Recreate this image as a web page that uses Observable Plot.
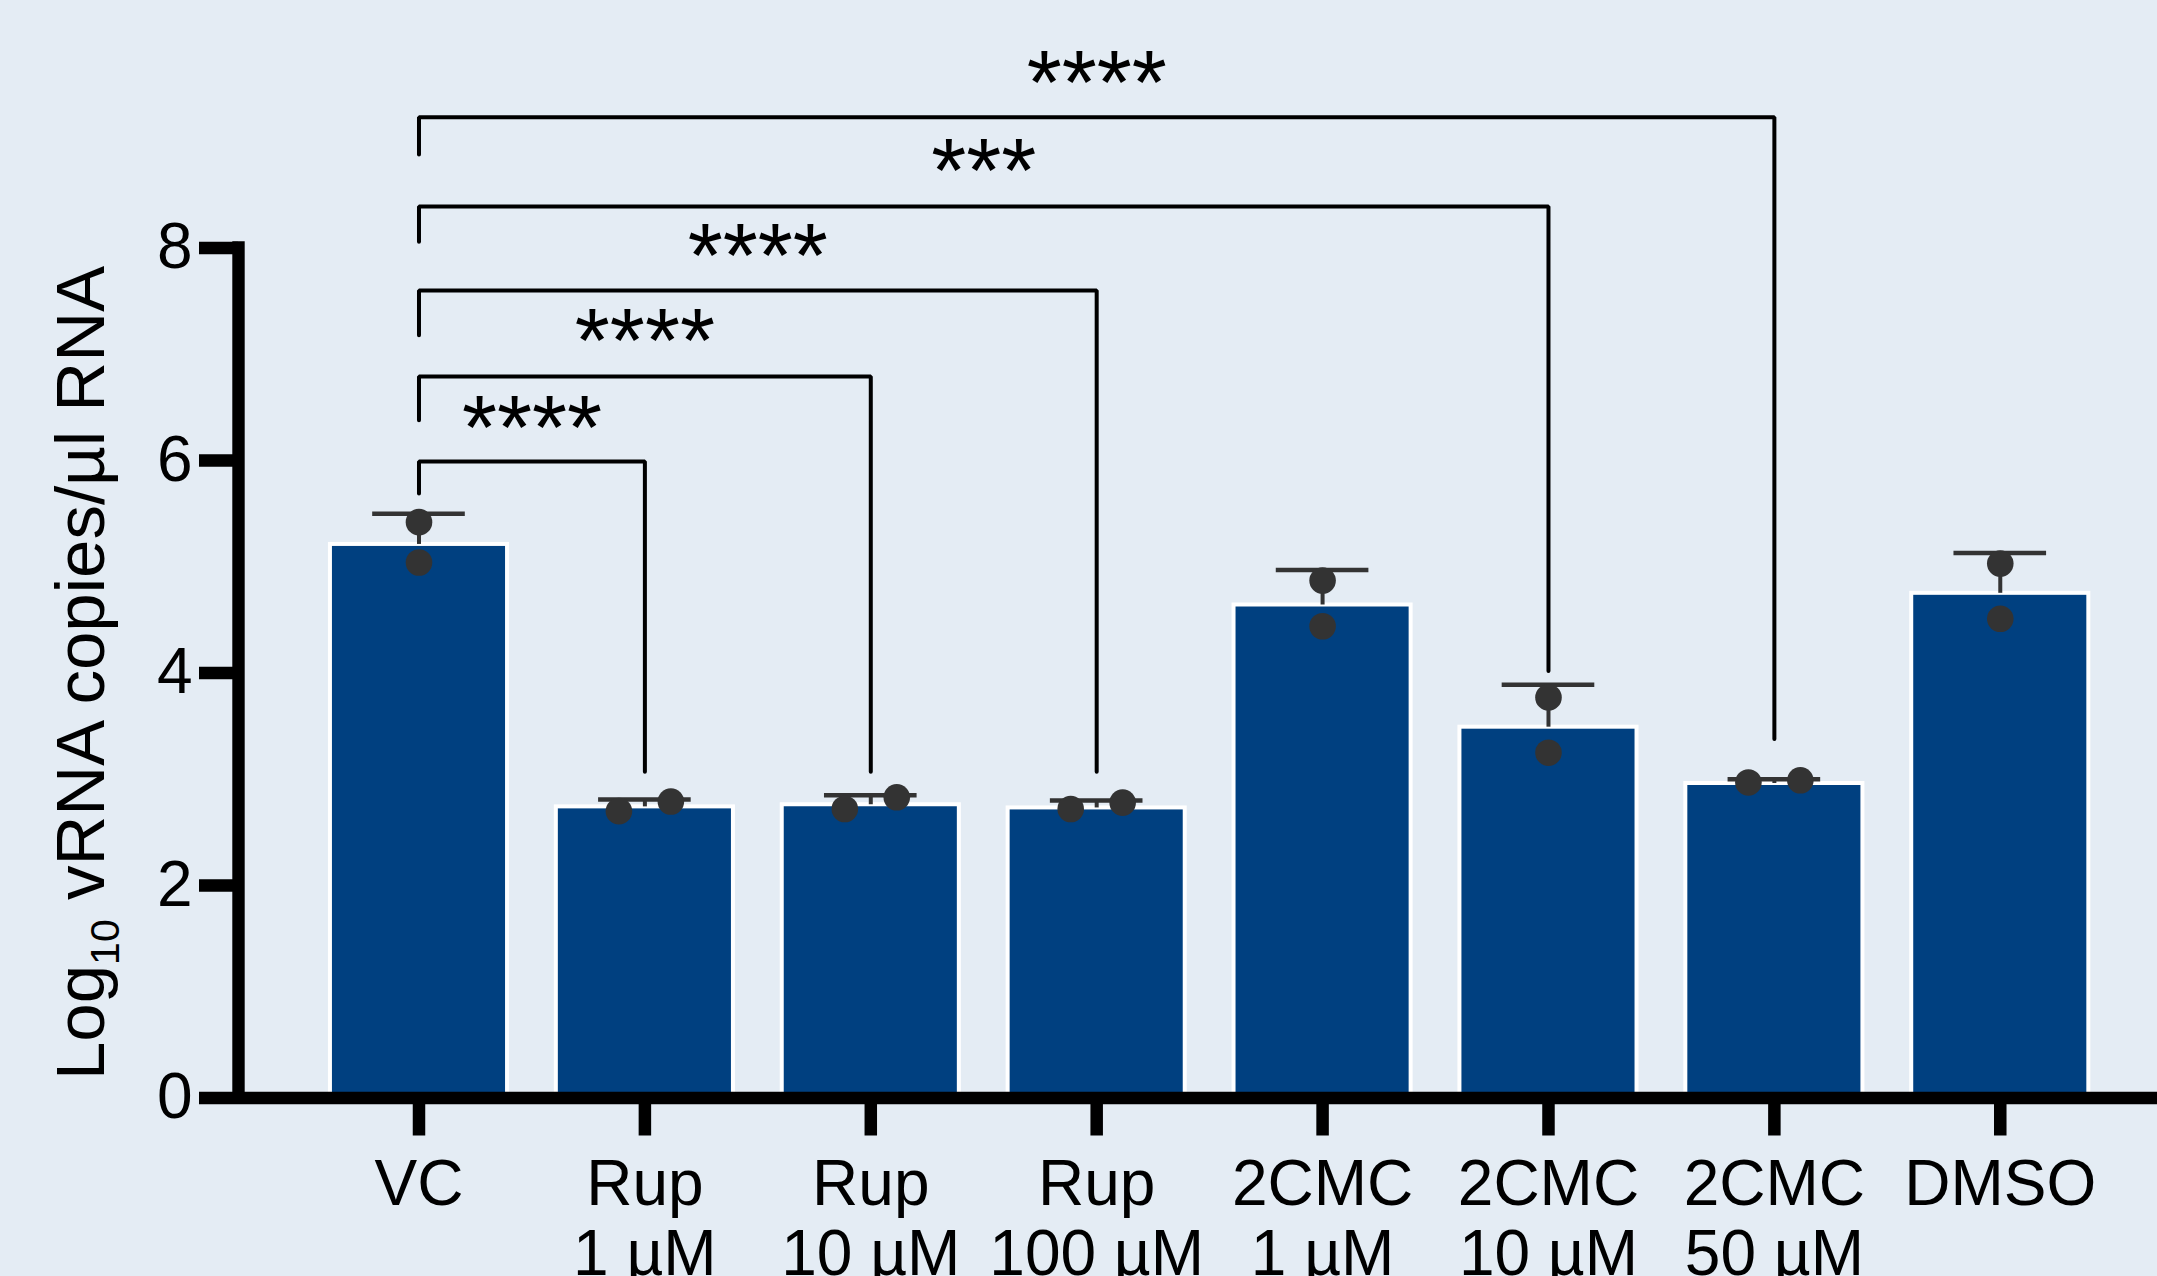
<!DOCTYPE html>
<html>
<head>
<meta charset="utf-8">
<script src="https://cdn.jsdelivr.net/npm/d3@7"></script>
<script src="https://cdn.jsdelivr.net/npm/@observablehq/plot@0.6"></script>
<style>
  html, body { margin: 0; padding: 0; background: #e4ecf4; }
  #chart svg { display: block; }
</style>
</head>
<body>
<div id="chart"></div>
<script>
// ---- data ----
const categories = ["VC", "Rup 1", "Rup 10", "Rup 100", "2CMC 1", "2CMC 10", "2CMC 50", "DMSO"];
const tickLabels = ["VC", "Rup\n1 µM", "Rup\n10 µM", "Rup\n100 µM", "2CMC\n1 µM", "2CMC\n10 µM", "2CMC\n50 µM", "DMSO"];
const means    = [5.21, 2.74, 2.76, 2.73, 4.64, 3.49, 2.96, 4.75];
const errUpper = [5.50, 2.81, 2.85, 2.80, 4.97, 3.89, 3.00, 5.13];
const rep1     = [5.42, 2.70, 2.72, 2.72, 4.87, 3.77, 2.97, 5.03];
const rep2     = [5.04, 2.79, 2.83, 2.78, 4.44, 3.25, 2.99, 4.51];
const yTicks = [0, 2, 4, 6, 8];
const yTitle = "Log10 vRNA copies/µl RNA";

// significance brackets (all from VC)
const bracketTo       = ["Rup 1", "Rup 10", "Rup 100", "2CMC 10", "2CMC 50"];
const bracketLevel    = [5.99, 6.79, 7.60, 8.39, 9.23];
const bracketLeftEnd  = [5.69, 6.38, 7.18, 8.06, 8.88];
const bracketRightEnd = [3.07, 3.07, 3.07, 4.02, 3.38];
const bracketStars    = ["****", "****", "****", "***", "****"];
const starLevel       = [6.45, 7.26, 8.06, 8.86, 9.69];

// ---- build tables ----
const idx = c => categories.indexOf(c);
const bars = categories.map((c, i) => ({i, c, mean: means[i], up: errUpper[i]}));

const JIT = 0.115;
const points = [];
categories.forEach((c, i) => {
  const a = rep1[i], b = rep2[i];
  const close = Math.abs(a - b) < 0.25;
  const lo = Math.min(a, b), hi = Math.max(a, b);
  points.push({i, v: lo, off: close ? -JIT : 0});
  points.push({i, v: hi, off: close ? JIT : 0});
});

const bracketPts = [];
const starTexts = [];
bracketTo.forEach((t, k) => {
  const x0 = idx("VC"), x1 = idx(t);
  bracketPts.push({k, x: x0, y: bracketLeftEnd[k]});
  bracketPts.push({k, x: x0, y: bracketLevel[k]});
  bracketPts.push({k, x: x1, y: bracketLevel[k]});
  bracketPts.push({k, x: x1, y: bracketRightEnd[k]});
  starTexts.push({x: (x0 + x1) / 2, y: starLevel[k], s: bracketStars[k]});
});

const BAR_HALF = 0.392;
const CAP_HALF = 0.205;
const xDomain = [-0.799, 7.696];
const INK = "#333333";

const chart = Plot.plot({
  width: 2157,
  height: 1276,
  marginLeft: 238,
  marginRight: 0,
  marginTop: 247.5,
  marginBottom: 178.5,
  x: {type: "linear", domain: xDomain},
  y: {domain: [0, 8]},
  style: {background: "#e4ecf4", fontFamily: "'Liberation Sans', Arial, sans-serif", color: "#000"},
  marks: [
    Plot.rectY(bars, {x1: d => d.i - BAR_HALF, x2: d => d.i + BAR_HALF, y1: 0, y2: d => d.mean,
      fill: "#004080", stroke: "white", strokeWidth: 4}),
    Plot.ruleX(bars, {x: d => d.i, y1: d => d.mean, y2: d => d.up, stroke: INK, strokeWidth: 4}),
    Plot.ruleY(bars, {y: d => d.up, x1: d => d.i - CAP_HALF, x2: d => d.i + CAP_HALF, stroke: INK, strokeWidth: 4.5}),
    Plot.dot(points, {x: d => d.i + d.off, y: d => d.v, r: 13.3, fill: INK, stroke: "none"}),
    Plot.line(bracketPts, {x: "x", y: "y", z: "k", stroke: "black", strokeWidth: 4, strokeLinejoin: "miter"}),
    Plot.text(starTexts, {x: "x", y: "y", text: "s", fontSize: 90, dy: 17, fill: "black"}),
    Plot.ruleY([0], {stroke: "black", strokeWidth: 12.5}),
    Plot.ruleX([xDomain[0]], {y1: 0, y2: 8, stroke: "black", strokeWidth: 12.4, strokeLinecap: "square"}),
    Plot.axisY({ticks: yTicks, tickSize: 39, tickPadding: 7, fontSize: 64, strokeWidth: 12.5, label: null, fill: "black", stroke: "black"}),
    Plot.axisX({ticks: categories.map((c, i) => i), tickFormat: i => tickLabels[i], tickSize: 38, tickPadding: 19,
      fontSize: 64, lineHeight: 1.1, strokeWidth: 12.5, label: null, fill: "black", stroke: "black"}),
    Plot.text([yTitle], {text: d => d, frameAnchor: "left", textAnchor: "middle", rotate: -90, dx: -157, fontSize: 69, fill: "black"})
  ]
});

document.getElementById("chart").appendChild(chart);

// subscript for "10" in the y-axis title
const svgNS = "http://www.w3.org/2000/svg";
const tEl = Array.from(chart.querySelectorAll("text")).find(e => e.textContent === yTitle);
if (tEl) {
  while (tEl.firstChild) tEl.removeChild(tEl.firstChild);
  const a = document.createElementNS(svgNS, "tspan"); a.textContent = "Log";
  const b = document.createElementNS(svgNS, "tspan"); b.textContent = "10";
  b.setAttribute("font-size", "41"); b.setAttribute("dy", "15");
  const c = document.createElementNS(svgNS, "tspan"); c.textContent = " vRNA copies/µl RNA";
  c.setAttribute("dy", "-15");
  tEl.appendChild(a); tEl.appendChild(b); tEl.appendChild(c);
}
</script>
</body>
</html>
